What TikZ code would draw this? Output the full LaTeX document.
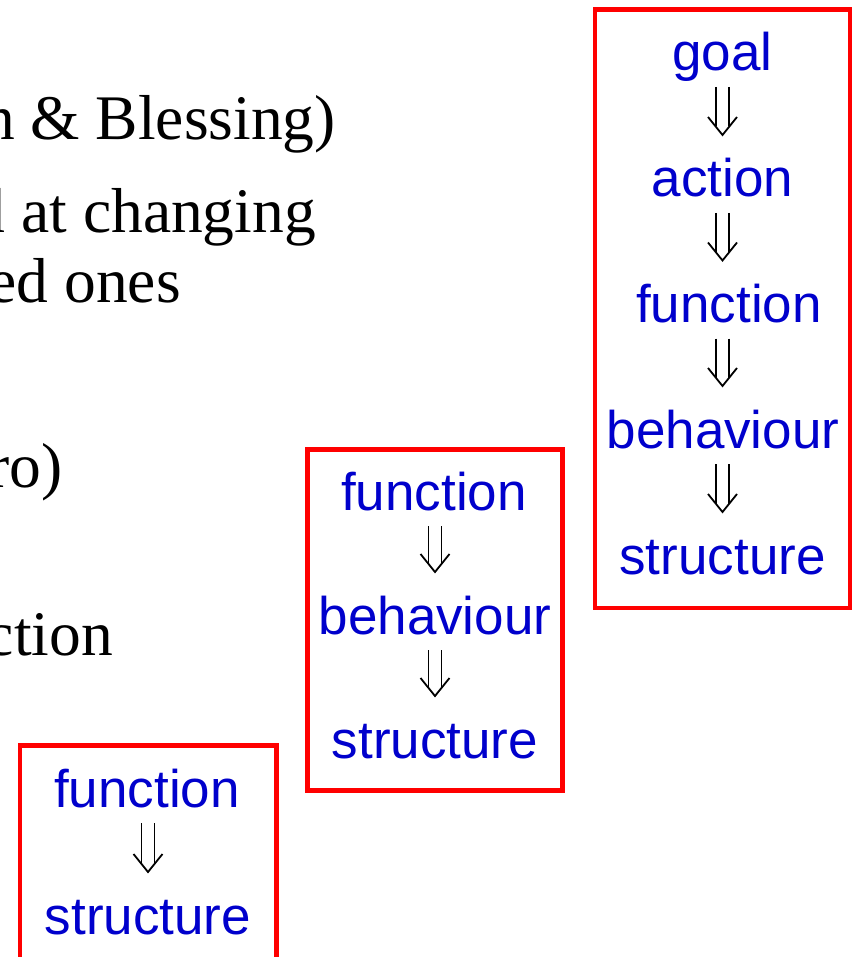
\documentclass[tikz,border=0pt]{standalone}
\usepackage{fontspec}
\setmainfont{Liberation Serif}
\newfontfamily\hsans{Liberation Sans}
\usetikzlibrary{calc}
\definecolor{wordblue}{RGB}{0,0,204}
\definecolor{boxred}{RGB}{255,0,0}
\tikzset{
  word/.style={font=\hsans\fontsize{53}{60}\selectfont, text=wordblue, inner sep=0pt, anchor=base},
  prose/.style={font=\fontsize{63.5}{70}\selectfont, text=black, inner sep=0pt, anchor=base east},
  frame/.style={draw=boxred, line width=4.5pt},
  dbl/.style={draw=black, line width=1.8pt},
}
% #1 axis coordinate, #2 upper word node, #3 lower word node
\newcommand\dnarrow[3]{%
  \coordinate (arrtop) at ($(#1 |- #2.base)+(0,16)$);
  \coordinate (arrtip) at ($(#1 |- #3.base)+(0,-62)$);
  \draw[dbl] ($(arrtop)+(-6.5,0)$) -- ($(arrtip)+(-6.5,-8.5)$);
  \draw[dbl] ($(arrtop)+(6.5,0)$) -- ($(arrtip)+(6.5,-8.5)$);
  \draw[dbl, line join=miter] ($(arrtip)+(-14.5,-18)$) -- (arrtip) -- ($(arrtip)+(14.5,-18)$);
}
\begin{document}
\begin{tikzpicture}[x=1pt, y=-1pt]
  \useasboundingbox (0,0) rectangle (856,957);
  \fill[white] (0,0) rectangle (856,957);
  \clip (0,0) rectangle (856,957);

  % cropped prose on the left
  \node[prose] (p1) at (336,140) {n \& Blessing)};
  \node[prose] (p2) at (316,233) {d at changing};
  \node[prose] (p3) at (181,302) {ed ones};
  \node[prose] (p4) at (63,487) {ro)};
  \node[prose] (p5) at (113,655) {ction};

  % right box
  \draw[frame] (595,9.5) rectangle (850,608);
  \coordinate (rax) at (722.5,0);
  \node[word] (rg) at (722.5,71) {goal};
  \node[word] (ra) at (722.5,197) {action};
  \node[word] (rf) at (729,322.5) {function};
  \node[word] (rb) at (723,448) {behaviour};
  \node[word] (rs) at (722.5,574) {structure};
  \dnarrow{rax}{rg}{ra}
  \dnarrow{rax}{ra}{rf}
  \dnarrow{rax}{rf}{rb}
  \dnarrow{rax}{rb}{rs}

  % middle box
  \draw[frame] (307.5,449.5) rectangle (562.5,790.5);
  \coordinate (max) at (435,0);
  \node[word] (mf) at (434,510) {function};
  \node[word] (mb) at (435,634) {behaviour};
  \node[word] (ms) at (435,758) {structure};
  \dnarrow{max}{mf}{mb}
  \dnarrow{max}{mb}{ms}

  % left box
  \draw[frame] (20,745.5) rectangle (276.5,962);
  \coordinate (lax) at (148,0);
  \node[word] (lf) at (147,807) {function};
  \node[word] (ls) at (148,934) {structure};
  \dnarrow{lax}{lf}{ls}
\end{tikzpicture}
\end{document}
